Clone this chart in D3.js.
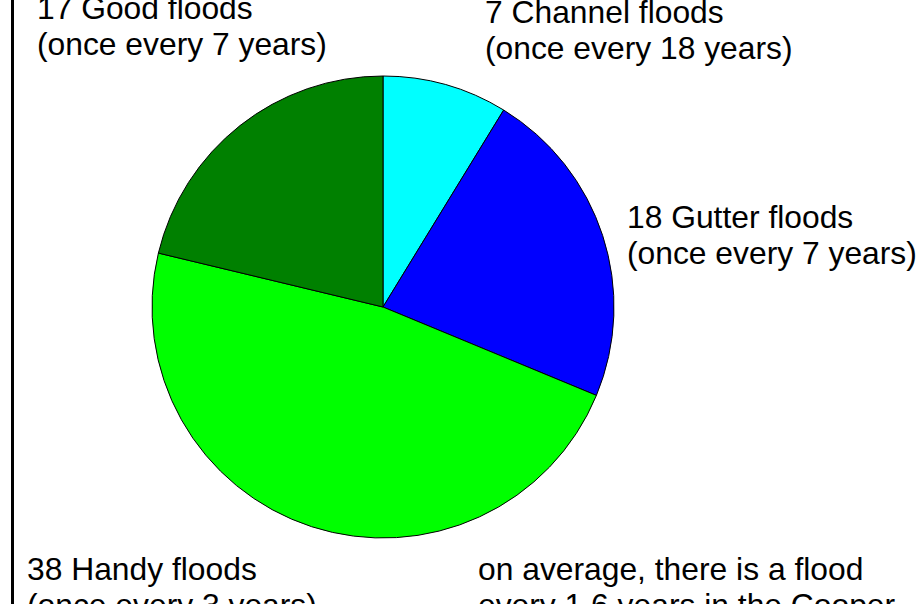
<!DOCTYPE html>
<html>
<head>
<meta charset="utf-8">
<script src="https://cdn.jsdelivr.net/npm/d3@7"></script>
<style>
  body { margin: 0; background: #fff; }
  svg { display: block; }
</style>
</head>
<body>
<div id="wrapper"></div>
<script>
// flood counts per class, clockwise from 12 o'clock
const categories = ["Channel", "Gutter", "Handy", "Good"]
const counts = [7, 18, 38, 17]
const colors = ["#00ffff", "#0000ff", "#00ff00", "#008000"]

// label blocks (two or more lines each)
const labelLines = [
  ["7 Channel floods", "(once every 18 years)"],
  ["18 Gutter floods", "(once every 7 years)"],
  ["38 Handy floods", "(once every 3 years)"],
  ["17 Good floods", "(once every 7 years)"],
]
const noteLines = ["on average, there is a flood", "every 1.6 years in the Cooper"]

function drawPie() {
  const dimensions = {
    width: 924,
    height: 604,
    cx: 383,
    cy: 307,
    radius: 231,
  }

  const data = categories.map((c, i) => ({ name: c, value: counts[i], color: colors[i] }))

  const svg = d3.select("#wrapper")
    .append("svg")
      .attr("width", dimensions.width)
      .attr("height", dimensions.height)

  // frame line on the left
  svg.append("line")
      .attr("x1", 12.5).attr("x2", 12.5)
      .attr("y1", 0).attr("y2", dimensions.height)
      .attr("stroke", "#000")
      .attr("stroke-width", 3)

  const pie = d3.pie()
      .sort(null)
      .value(d => d.value)

  const arc = d3.arc()
      .innerRadius(0)
      .outerRadius(dimensions.radius)

  const bounds = svg.append("g")
      .attr("transform", `translate(${dimensions.cx},${dimensions.cy})`)

  bounds.selectAll("path")
      .data(pie(data))
    .enter()
    .append("path")
      .attr("d", arc)
      .attr("fill", d => d.data.color)
      .attr("stroke", "#000")
      .attr("stroke-width", 1)

  // label positions: [x, first baseline]
  const labelPos = [[485, 23], [627, 228], [27, 580], [37, 19]]
  const lineHeight = 36

  const addBlock = (lines, x, y) => {
    const t = svg.append("text")
        .attr("x", x)
        .attr("y", y)
        .style("font-family", "'Liberation Sans', Arial, sans-serif")
        .style("font-size", "31.8px")
        .attr("fill", "#000")
    lines.forEach((line, i) => {
      t.append("tspan")
          .attr("x", x)
          .attr("y", y + i * lineHeight)
          .text(line)
    })
  }

  labelLines.forEach((lines, i) => addBlock(lines, labelPos[i][0], labelPos[i][1]))
  addBlock(noteLines, 478, 580)
}
drawPie()
</script>
</body>
</html>
